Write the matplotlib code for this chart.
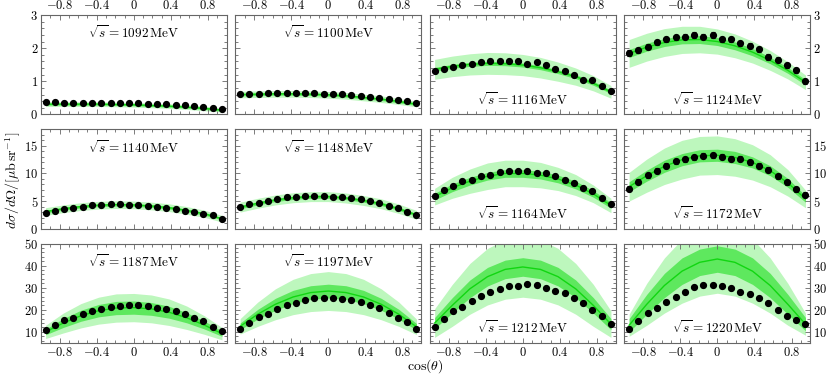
import matplotlib
matplotlib.use("Agg")
import matplotlib.pyplot as plt
from matplotlib.ticker import MultipleLocator, FixedLocator, FixedFormatter

plt.rcParams["mathtext.fontset"] = "cm"
plt.rcParams["font.family"] = "serif"
plt.rcParams["font.serif"] = ["cmr10", "DejaVu Serif"]
plt.rcParams["axes.formatter.use_mathtext"] = True
plt.rcParams["axes.unicode_minus"] = False

energies = [1092, 1100, 1116, 1124, 1140, 1148, 1164, 1172, 1187, 1197, 1212, 1220]

# measured points at cos(theta) = -0.95 ... 0.95
x_data = [-0.95, -0.85, -0.75, -0.65, -0.55, -0.45, -0.35, -0.25, -0.15, -0.05,
          0.05, 0.15, 0.25, 0.35, 0.45, 0.55, 0.65, 0.75, 0.85, 0.95]

points = [
    [0.36, 0.37, 0.35, 0.35, 0.35, 0.34, 0.35, 0.35, 0.34, 0.34, 0.33, 0.32, 0.31, 0.31, 0.28, 0.27, 0.25, 0.23, 0.20, 0.17],
    [0.62, 0.63, 0.63, 0.64, 0.64, 0.64, 0.66, 0.65, 0.64, 0.63, 0.62, 0.61, 0.58, 0.56, 0.54, 0.51, 0.47, 0.44, 0.40, 0.33],
    [1.32, 1.38, 1.44, 1.50, 1.52, 1.57, 1.61, 1.60, 1.61, 1.60, 1.53, 1.57, 1.48, 1.37, 1.31, 1.18, 1.05, 1.03, 0.85, 0.72],
    [1.85, 1.93, 2.05, 2.18, 2.27, 2.33, 2.35, 2.40, 2.35, 2.40, 2.27, 2.27, 2.15, 2.08, 1.97, 1.73, 1.65, 1.48, 1.33, 1.00],
    [2.9, 3.2, 3.5, 3.7, 4.0, 4.2, 4.3, 4.4, 4.4, 4.3, 4.25, 4.1, 4.0, 3.8, 3.5, 3.2, 3.0, 2.7, 2.4, 1.8],
    [3.9, 4.4, 4.7, 5.1, 5.3, 5.7, 5.8, 5.9, 5.95, 5.9, 5.8, 5.65, 5.5, 5.3, 5.0, 4.6, 4.1, 3.7, 3.1, 2.4],
    [5.9, 7.0, 7.8, 8.6, 8.9, 9.5, 9.8, 10.3, 10.4, 10.5, 10.4, 10.1, 10.1, 9.6, 8.8, 8.2, 7.4, 6.8, 5.5, 4.4],
    [7.2, 8.5, 9.7, 10.5, 11.4, 12.2, 12.6, 12.9, 13.2, 13.3, 13.0, 12.7, 12.7, 12.0, 11.4, 10.7, 9.5, 8.4, 7.1, 6.1],
    [10.9, 13.0, 15.3, 16.3, 18.0, 19.6, 20.5, 21.4, 21.9, 22.0, 22.2, 21.9, 21.0, 20.4, 19.5, 18.0, 16.2, 14.7, 12.3, 10.2],
    [11.5, 14.2, 16.8, 18.3, 20.3, 22.1, 23.2, 24.4, 25.3, 25.5, 25.3, 25.0, 24.4, 23.5, 22.0, 20.6, 18.7, 16.4, 14.3, 11.4],
    [12.0, 15.9, 19.5, 21.2, 24.2, 26.3, 27.9, 29.6, 30.6, 30.9, 31.5, 31.2, 29.7, 28.6, 27.4, 25.5, 22.9, 19.9, 17.3, 13.5],
    [11.2, 15.1, 18.7, 20.7, 23.5, 25.8, 27.9, 30.2, 31.2, 31.2, 30.9, 29.7, 28.2, 27.1, 25.2, 23.0, 20.0, 17.4, 15.2, 13.6],
]
errors = [0.02, 0.03, 0.05, 0.08, 0.15, 0.2, 0.3, 0.45, 0.6, 0.7, 0.8, 0.8]

# model curve and bands
x_curve = [-0.95, -0.76, -0.57, -0.38, -0.19, 0.0, 0.19, 0.38, 0.57, 0.76, 0.95]

center = [
    [0.31, 0.31, 0.31, 0.31, 0.30, 0.29, 0.27, 0.25, 0.22, 0.18, 0.13],
    [0.60, 0.61, 0.62, 0.62, 0.61, 0.59, 0.56, 0.51, 0.46, 0.39, 0.31],
    [1.36, 1.45, 1.51, 1.54, 1.53, 1.49, 1.41, 1.29, 1.14, 0.94, 0.68],
    [1.84, 2.03, 2.17, 2.25, 2.26, 2.20, 2.07, 1.88, 1.63, 1.33, 0.97],
    [3.1, 3.6, 4.0, 4.25, 4.35, 4.3, 4.1, 3.8, 3.3, 2.7, 1.8],
    [3.9, 4.6, 5.2, 5.6, 5.8, 5.8, 5.55, 5.1, 4.5, 3.6, 2.5],
    [5.8, 7.4, 8.6, 9.5, 10.0, 10.0, 9.7, 9.0, 7.9, 6.3, 4.2],
    [7.6, 9.6, 11.3, 12.5, 13.2, 13.3, 12.9, 12.0, 10.5, 8.3, 5.4],
    [10.0, 14.0, 17.3, 19.6, 20.8, 21.0, 20.4, 18.9, 16.4, 13.1, 9.2],
    [12.5, 18.0, 22.5, 25.8, 27.8, 28.5, 27.8, 25.8, 22.5, 18.0, 12.3],
    [14.0, 22.0, 29.5, 35.0, 38.3, 39.4, 38.3, 35.0, 29.5, 22.0, 13.5],
    [13.0, 22.5, 31.0, 37.5, 41.5, 43.0, 41.5, 37.5, 31.0, 22.5, 13.5],
]
inner_hw = [
    [0.03, 0.03, 0.03, 0.03, 0.03, 0.03, 0.03, 0.03, 0.03, 0.03, 0.03],
    [0.04, 0.04, 0.04, 0.04, 0.04, 0.04, 0.04, 0.04, 0.04, 0.04, 0.04],
    [0.06, 0.06, 0.06, 0.06, 0.06, 0.06, 0.06, 0.06, 0.06, 0.06, 0.05],
    [0.12, 0.12, 0.12, 0.12, 0.12, 0.12, 0.12, 0.11, 0.10, 0.09, 0.08],
    [0.25, 0.25, 0.25, 0.25, 0.25, 0.25, 0.25, 0.25, 0.25, 0.25, 0.2],
    [0.3, 0.3, 0.3, 0.3, 0.3, 0.3, 0.3, 0.3, 0.3, 0.3, 0.25],
    [0.6, 0.7, 0.7, 0.7, 0.7, 0.7, 0.7, 0.7, 0.7, 0.6, 0.5],
    [0.9, 1.0, 1.1, 1.1, 1.1, 1.1, 1.1, 1.0, 0.9, 0.8, 0.6],
    [1.3, 2.0, 2.5, 2.8, 3.0, 3.0, 2.9, 2.7, 2.3, 1.8, 1.2],
    [1.5, 2.2, 2.7, 3.0, 3.1, 3.1, 3.1, 3.0, 2.7, 2.2, 1.5],
    [2.5, 3.5, 4.0, 4.2, 4.2, 4.2, 4.2, 4.2, 4.0, 3.5, 2.5],
    [3.0, 4.5, 5.5, 6.0, 6.0, 6.0, 6.0, 6.0, 5.5, 4.5, 3.0],
]
outer_hw = [
    [0.07, 0.07, 0.07, 0.07, 0.07, 0.07, 0.07, 0.07, 0.07, 0.07, 0.06],
    [0.10, 0.10, 0.10, 0.10, 0.10, 0.10, 0.10, 0.10, 0.10, 0.09, 0.08],
    [0.30, 0.31, 0.32, 0.33, 0.33, 0.32, 0.31, 0.29, 0.26, 0.23, 0.19],
    [0.42, 0.42, 0.42, 0.41, 0.40, 0.38, 0.36, 0.33, 0.30, 0.26, 0.22],
    [0.7, 0.7, 0.7, 0.7, 0.7, 0.7, 0.7, 0.7, 0.7, 0.65, 0.6],
    [0.9, 0.9, 0.9, 0.9, 0.9, 0.9, 0.9, 0.9, 0.9, 0.85, 0.8],
    [1.5, 1.9, 2.2, 2.4, 2.4, 2.4, 2.3, 2.1, 1.9, 1.6, 1.3],
    [2.6, 3.0, 3.3, 3.5, 3.5, 3.5, 3.4, 3.2, 2.9, 2.4, 1.6],
    [3.0, 4.5, 5.5, 6.1, 6.4, 6.4, 6.3, 6.0, 5.3, 4.2, 2.8],
    [3.5, 5.5, 7.0, 8.0, 8.6, 8.8, 8.6, 8.0, 7.0, 5.5, 3.5],
    [6.5, 9.5, 11.5, 12.8, 13.5, 13.7, 13.5, 12.8, 11.5, 9.5, 6.0],
    [5.0, 9.5, 12.5, 14.5, 15.3, 15.5, 15.3, 14.5, 12.5, 9.5, 5.0],
]
label_on_top = [True, True, False, False, True, True, False, False, True, True, False, False]

row_ylim = [(0, 3), (0, 18), (5, 50)]
row_major = [[0, 1, 2, 3], [0, 5, 10, 15], [10, 20, 30, 40, 50]]
row_minor = [0.2, 1, 2]
x_ticks = [-0.8, -0.4, 0, 0.4, 0.8]
x_tick_labels = [r"$-0.8$", r"$-0.4$", r"$0$", r"$0.4$", r"$0.8$"]

light_green = "#bdf7bd"
mid_green = "#5ee85e"
line_green = "#11d611"
frame = "#666666"

fig, axes = plt.subplots(3, 4, figsize=(8.3, 3.76), dpi=100)
fig.subplots_adjust(left=0.0494, right=0.976, top=0.960, bottom=0.088,
                    wspace=0.048, hspace=0.15)

for i, ax in enumerate(axes.flat):
    row, col = divmod(i, 4)
    lo_out = [c - w for c, w in zip(center[i], outer_hw[i])]
    hi_out = [c + w for c, w in zip(center[i], outer_hw[i])]
    lo_in = [c - w for c, w in zip(center[i], inner_hw[i])]
    hi_in = [c + w for c, w in zip(center[i], inner_hw[i])]
    ax.fill_between(x_curve, lo_out, hi_out, color=light_green, lw=0)
    ax.fill_between(x_curve, lo_in, hi_in, color=mid_green, lw=0)
    ax.plot(x_curve, center[i], color=line_green, lw=1.0)
    ax.errorbar(x_data, points[i], yerr=errors[i], fmt="o", color="black",
                ms=4.2, elinewidth=0.8, capsize=1.5, capthick=0.8, zorder=5)

    ax.set_xlim(-1.0, 1.0)
    ax.set_ylim(*row_ylim[row])
    ax.xaxis.set_major_locator(FixedLocator(x_ticks))
    ax.xaxis.set_major_formatter(FixedFormatter(x_tick_labels))
    ax.xaxis.set_minor_locator(MultipleLocator(0.1))
    ax.yaxis.set_major_locator(FixedLocator(row_major[row]))
    ax.yaxis.set_major_formatter(FixedFormatter([rf"${v}$" for v in row_major[row]]))
    ax.yaxis.set_minor_locator(MultipleLocator(row_minor[row]))

    ax.tick_params(which="both", direction="in", top=True, bottom=True,
                   left=True, right=True, color=frame, width=0.6,
                   labelsize=9, pad=2,
                   labeltop=(row == 0), labelbottom=(row == 2),
                   labelleft=(col == 0), labelright=(col == 3))
    ax.tick_params(which="major", length=3.5)
    ax.tick_params(which="minor", length=2)
    for s in ax.spines.values():
        s.set_color(frame)
        s.set_linewidth(0.8)

    ypos = 0.82 if label_on_top[i] else 0.15
    ax.text(0.5, ypos, rf"$\sqrt{{s}} = {energies[i]}\,\mathrm{{MeV}}$",
            transform=ax.transAxes, ha="center", va="center", fontsize=9.5)

fig.text(0.016, 0.52, r"$d\sigma/d\Omega/[\mu\mathrm{b\,sr}^{-1}]$",
         rotation=90, ha="center", va="center", fontsize=10)
fig.text(0.512, 0.025, r"$\cos(\theta)$", ha="center", va="center", fontsize=10)

fig.savefig("out.png", dpi=100)
